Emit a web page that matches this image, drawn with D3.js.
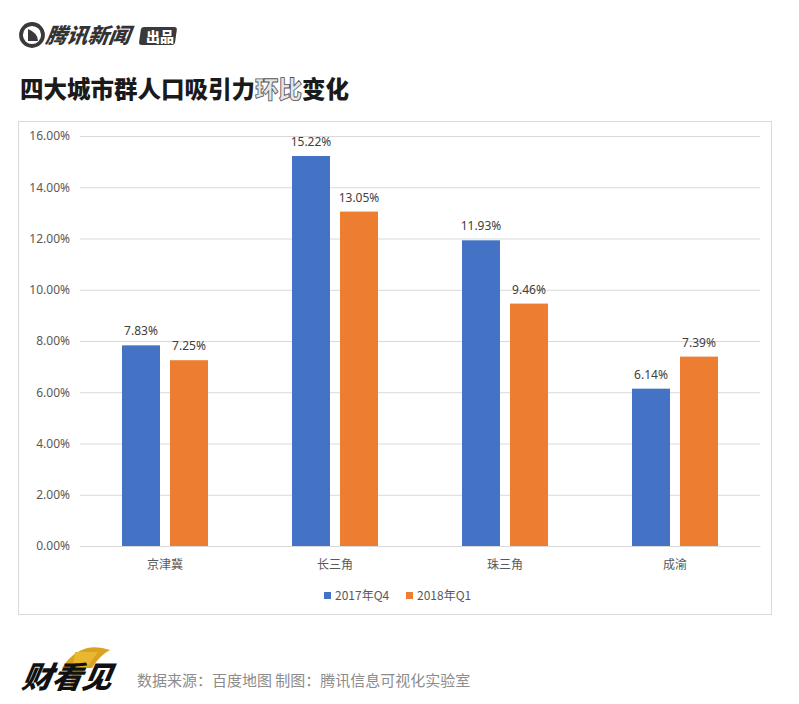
<!DOCTYPE html>
<html><head><meta charset="utf-8">
<script src="https://cdn.jsdelivr.net/npm/d3@7"></script>
<style>body{margin:0;background:#fff;}svg{display:block;font-family:"Noto Sans CJK SC","Noto Sans",sans-serif;}</style>
</head><body>
<script>
const categories = ["京津冀", "长三角", "珠三角", "成渝"];
const seriesNames = ["2017年Q4", "2018年Q1"];
const values2017Q4 = [7.83, 15.22, 11.93, 6.14];
const values2018Q1 = [7.25, 13.05, 9.46, 7.39];
const yTicks = [0, 2, 4, 6, 8, 10, 12, 14, 16];
const colors = ["#4472C4", "#ED7D31"];
const title = "四大城市群人口吸引力环比变化";
const source = "数据来源：百度地图 制图：腾讯信息可视化实验室";

const W = 799, H = 704;
const svg = d3.select("body").append("svg").attr("width", W).attr("height", H);

// header logo
const logo = svg.append("g");
logo.append("circle").attr("cx", 32).attr("cy", 35).attr("r", 11).attr("fill", "none").attr("stroke", "#3a3a3a").attr("stroke-width", 3.8);
logo.append("path").attr("d", "M28,29 L28,41 L38,41 Q38,33 28,29 Z").attr("fill", "#3a3a3a");
logo.append("text").attr("x", 46).attr("y", 43).attr("font-size", 21).attr("font-weight", 900).attr("font-style", "italic")
  .attr("fill", "#333").attr("transform", "skewX(-8)").attr("dx", 5).text("腾讯新闻");
logo.append("rect").attr("x", 140).attr("y", 27).attr("width", 36).attr("height", 18).attr("rx", 3).attr("fill", "#3a3a3a").attr("transform", "skewX(-8) translate(5,0)");
logo.append("text").attr("x", 160).attr("y", 42).attr("font-size", 14).attr("font-weight", 900).attr("fill", "#fff").attr("text-anchor", "middle").text("出品");

// title
const t = svg.append("text").attr("x", 20).attr("y", 98).attr("font-size", 23.5).attr("font-weight", 900).attr("fill", "#1a1a1a");
t.append("tspan").text(title.slice(0, 10));
t.append("tspan").attr("fill", "#e6e6e6").attr("stroke", "#555").attr("stroke-width", 0.8).text(title.slice(10, 12));
t.append("tspan").text(title.slice(12));

// chart frame
svg.append("rect").attr("x", 18.5).attr("y", 121.5).attr("width", 753).attr("height", 493).attr("fill", "#fff").attr("stroke", "#d9d9d9");

const plot = {left: 80, right: 760, top: 136, bottom: 546};
const y = d3.scaleLinear().domain([0, 16]).range([plot.bottom, plot.top]);
const x0 = d3.scaleBand().domain(categories).range([plot.left, plot.right]).padding(0);
const x1 = d3.scaleBand().domain(seriesNames).range([42, 128]).paddingInner(10 / 48);

// gridlines & y labels
const yAxis = d3.axisLeft(y).tickValues(yTicks).tickSize(-(plot.right - plot.left)).tickFormat(d => d3.format(".2f")(d) + "%").tickPadding(10);
const ga = svg.append("g").attr("transform", `translate(${plot.left},0)`).call(yAxis);
ga.select(".domain").remove();
ga.selectAll(".tick line").attr("stroke", "#d9d9d9");
ga.selectAll(".tick text").attr("fill", "#595959").attr("font-size", 12).attr("font-family", "'Noto Sans','Noto Sans CJK SC',sans-serif");

// bars
const data = categories.map((c, i) => ({cat: c, vals: [values2017Q4[i], values2018Q1[i]]}));
const groups = svg.append("g").selectAll("g").data(data).join("g").attr("transform", d => `translate(${x0(d.cat)},0)`);
groups.selectAll("rect").data(d => d.vals.map((v, j) => ({s: seriesNames[j], v, j}))).join("rect")
  .attr("x", d => x1(d.s)).attr("width", x1.bandwidth())
  .attr("y", d => y(d.v)).attr("height", d => y(0) - y(d.v)).attr("fill", d => colors[d.j]);
groups.selectAll("text.val").data(d => d.vals.map((v, j) => ({s: seriesNames[j], v, j}))).join("text").attr("class", "val")
  .attr("x", d => x1(d.s) + x1.bandwidth() / 2).attr("y", d => y(d.v) - 10).attr("text-anchor", "middle")
  .attr("font-size", 12).attr("fill", "#404040").attr("font-family", "'Noto Sans','Noto Sans CJK SC',sans-serif")
  .text(d => d3.format(".2f")(d.v) + "%");

// x axis
const xAxis = d3.axisBottom(x0).tickSize(0).tickPadding(14);
const gx = svg.append("g").attr("transform", `translate(0,${plot.bottom})`).call(xAxis);
gx.select(".domain").attr("stroke", "#d9d9d9");
gx.selectAll(".tick text").attr("fill", "#595959").attr("font-size", 12).attr("font-family", "'Noto Sans CJK SC',sans-serif");

// legend
const legendX = [324, 406];
const lg = svg.append("g").selectAll("g").data(seriesNames).join("g").attr("transform", (d, i) => `translate(${legendX[i]},596)`);
lg.append("rect").attr("x", 0).attr("y", -4).attr("width", 7).attr("height", 7).attr("fill", (d, i) => colors[i]);
lg.append("text").attr("x", 11).attr("y", 4).attr("font-size", 12).attr("fill", "#595959").text(d => d);

// footer logo
const fl = svg.append("g");
fl.append("path").attr("d", "M62,668 Q80,640 110,650 Q100,655 92,668 Z").attr("fill", "#d9a321");
fl.append("path").attr("d", "M75,652 L98,652 L70,690 Z").attr("fill", "#e8b830");
fl.append("text").attr("x", 22).attr("y", 688).attr("font-size", 30).attr("font-weight", 900).attr("font-style", "italic").attr("fill", "#111")
  .attr("transform", "skewX(-10) translate(120,0)").text("财看见");

// source
svg.append("text").attr("x", 137).attr("y", 686).attr("font-size", 15).attr("fill", "#8c8c8c").text(source);
</script>
</body></html>
